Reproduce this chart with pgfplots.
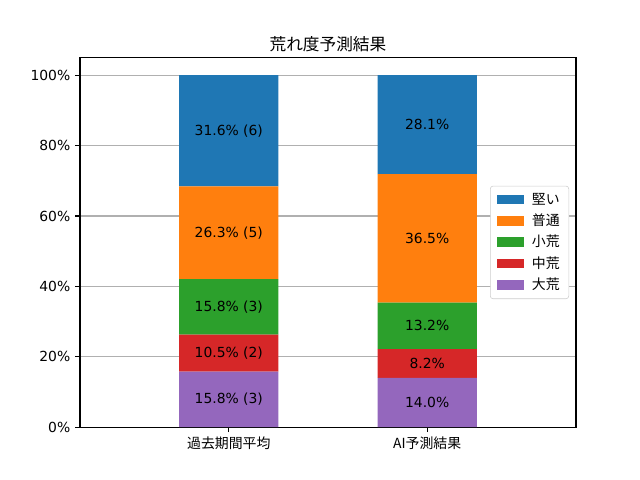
\documentclass[border=0pt]{standalone}
\usepackage{pgfplots}
\usepackage{pgfplotstable}
\pgfplotsset{compat=1.18}
\usepackage{fontspec}
\setmainfont{DejaVu Sans}
\newfontfamily\jp{Noto Sans CJK JP}
\definecolor{c1}{HTML}{1F77B4}
\definecolor{c2}{HTML}{FF7F0E}
\definecolor{c3}{HTML}{2CA02C}
\definecolor{c4}{HTML}{D62728}
\definecolor{c5}{HTML}{9467BD}
\pgfplotstableread{
x val label
0 15.8 {15.8\% (3)}
1 14.0 {14.0\%}
}\dai
\pgfplotstableread{
x val label
0 10.5 {10.5\% (2)}
1 8.2 {8.2\%}
}\chu
\pgfplotstableread{
x val label
0 15.8 {15.8\% (3)}
1 13.2 {13.2\%}
}\sho
\pgfplotstableread{
x val label
0 26.3 {26.3\% (5)}
1 36.5 {36.5\%}
}\futsu
\pgfplotstableread{
x val label
0 31.6 {31.6\% (6)}
1 28.1 {28.1\%}
}\katai
\begin{document}
\begin{tikzpicture}
\path[use as bounding box] (0,0) rectangle (460.8pt,345.6pt);
\begin{axis}[
  at={(57.6pt,38.016pt)}, anchor=south west,
  scale only axis, width=357.12pt, height=266.112pt,
  ybar stacked, bar width=0.5,
  xmin=-0.75, xmax=1.75, ymin=0, ymax=105,
  xtick={0,1}, xticklabels={{\jp 過去期間平均},{\jp AI予測結果}},
  ytick={0,20,40,60,80,100},
  yticklabels={0\%,20\%,40\%,60\%,80\%,100\%},
  tick pos=left, tick align=outside, major tick length=3.5pt,
  every tick/.style={black, line width=0.8pt},
  axis line style={line width=0.8pt},
  ymajorgrids, grid style={color=black!31, line width=0.8pt},
  title={\jp 荒れ度予測結果}, title style={font=\fontsize{12}{14}\selectfont, yshift=-5.5pt},
  tick label style={font=\fontsize{10}{12}\selectfont},
  point meta=explicit symbolic,
  nodes near coords,
  every node near coord/.append style={anchor=center, font=\fontsize{10}{12}\selectfont, black},
  reverse legend,
  legend style={at={(1,0.5)}, anchor=east, xshift=-5pt, draw=black!20, rounded corners=2pt,
    font=\jp\fontsize{10}{12}\selectfont, row sep=1.5pt, inner xsep=4.5pt, inner ysep=3pt},
  legend image code/.code={\fill[#1, sharp corners] (0pt,-3.5pt) rectangle (20pt,3.5pt); \path (23.5pt,0pt);},
  legend cell align=left,
]
\addplot[fill=c5, draw=none] table[x=x, y=val, meta=label] {\dai};
\addlegendentry{大荒}
\addplot[fill=c4, draw=none] table[x=x, y=val, meta=label] {\chu};
\addlegendentry{中荒}
\addplot[fill=c3, draw=none] table[x=x, y=val, meta=label] {\sho};
\addlegendentry{小荒}
\addplot[fill=c2, draw=none] table[x=x, y=val, meta=label] {\futsu};
\addlegendentry{普通}
\addplot[fill=c1, draw=none] table[x=x, y=val, meta=label] {\katai};
\addlegendentry{堅い}
\end{axis}
\end{tikzpicture}
\end{document}
